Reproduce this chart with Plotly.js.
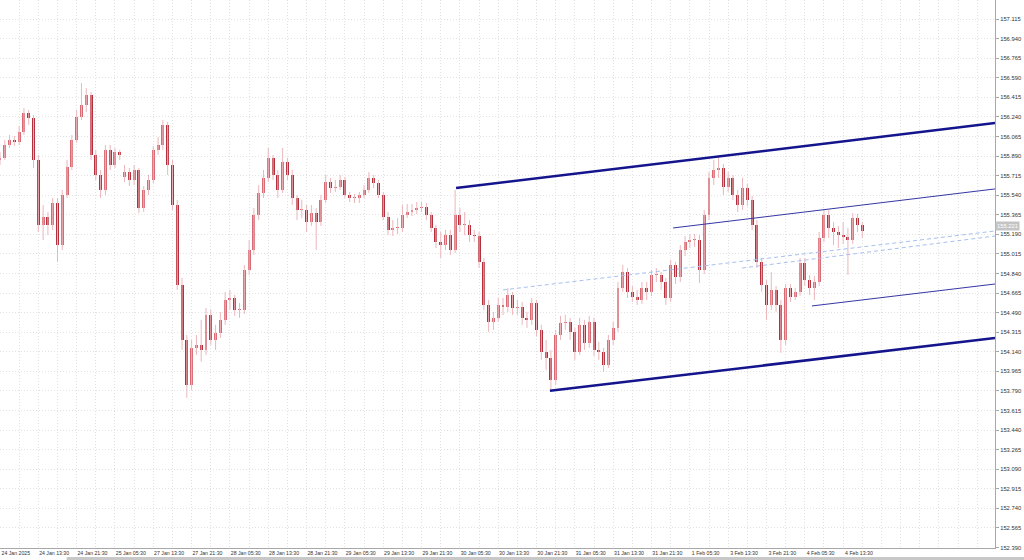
<!DOCTYPE html>
<html>
<head>
<meta charset="utf-8">
<script src="https://cdn.plot.ly/plotly-3.0.1.min.js"></script>
<style>html,body{margin:0;padding:0;background:#fff;}#chart{width:1024px;height:560px;}</style>
</head>
<body>
<div id="chart"></div>
<script>
// ---- Data (hourly candles) ----
const opens = [
155.855,155.873,155.989,156.033,156.016,156.105,156.275,156.230,155.855,155.274,
155.345,155.274,155.470,155.095,155.542,155.792,156.033,156.239,156.346,156.436,
155.899,155.721,155.587,155.944,155.810,155.926,155.703,155.747,155.676,155.765,
155.425,155.587,155.676,155.944,155.989,156.168,155.810,155.452,154.737,154.246,
153.844,154.175,154.202,154.157,154.470,154.246,154.309,154.425,154.604,154.621,
154.515,154.515,154.871,155.050,155.363,155.560,155.694,155.873,155.721,155.587,
155.837,155.721,155.515,155.408,155.408,155.300,155.381,155.300,155.497,155.658,
155.604,155.613,155.676,155.542,155.515,155.515,155.542,155.587,155.694,155.649,
155.542,155.345,155.229,155.247,155.247,155.363,155.390,155.408,155.425,155.434,
155.363,155.247,155.122,155.095,155.184,155.050,155.363,155.274,155.274,155.184,
155.175,154.943,154.559,154.407,154.443,154.559,154.541,154.648,154.532,154.541,
154.443,154.425,154.577,154.336,154.139,154.086,153.889,154.291,154.398,154.407,
154.318,154.139,154.381,154.220,154.407,154.157,154.139,154.023,154.246,154.354,
154.710,154.853,154.675,154.630,154.604,154.710,154.675,154.827,154.827,154.764,
154.621,154.916,154.809,155.050,155.122,155.139,155.139,154.871,155.363,155.694,
155.765,155.783,155.613,155.694,155.542,155.452,155.604,155.497,155.274,154.943,
154.737,154.559,154.693,154.559,154.246,154.710,154.630,154.675,154.934,154.782,
154.710,154.764,155.157,155.363,155.247,155.211,155.184,155.166,155.139,155.336,
155.274];
const highs = [
155.926,156.033,156.078,156.069,156.159,156.319,156.302,156.257,155.899,155.452,
155.390,155.515,155.515,155.587,155.855,156.078,156.302,156.543,156.498,156.463,
155.944,155.765,155.989,155.989,155.962,155.944,155.810,155.783,155.810,155.783,
155.622,155.721,155.980,156.060,156.212,156.194,155.855,155.497,154.800,154.291,
154.246,154.291,154.425,154.532,154.515,154.381,154.497,154.675,154.693,154.648,
154.577,154.916,155.139,155.425,155.631,155.765,155.962,155.899,155.765,155.962,
155.873,155.765,155.542,155.497,155.452,155.452,155.425,155.542,155.721,155.694,
155.676,155.721,155.703,155.569,155.551,155.569,155.631,155.747,155.721,155.676,
155.569,155.390,155.318,155.336,155.452,155.461,155.461,155.479,155.479,155.470,
155.390,155.274,155.211,155.229,155.229,155.587,155.425,155.390,155.318,155.229,
155.211,154.979,154.604,154.497,154.621,154.621,154.710,154.675,154.604,154.586,
154.497,154.621,154.604,154.381,154.246,154.157,154.336,154.461,154.470,154.443,
154.354,154.443,154.425,154.461,154.443,154.229,154.175,154.291,154.407,154.764,
154.916,154.889,154.728,154.693,154.764,154.764,154.871,154.889,154.853,154.800,
154.961,154.943,155.095,155.175,155.193,155.193,155.184,155.408,155.747,155.855,
155.882,155.819,155.747,155.721,155.587,155.694,155.640,155.533,155.318,154.979,
154.782,154.853,154.728,154.604,154.746,154.746,154.710,154.979,154.979,154.827,
154.818,155.211,155.408,155.408,155.300,155.265,155.300,155.247,155.381,155.372,
155.300];
const lows = [
155.810,155.855,155.962,155.980,155.989,156.078,156.168,155.783,155.211,155.139,
155.184,155.229,154.943,155.050,155.515,155.765,156.007,156.212,156.284,155.855,
155.676,155.515,155.542,155.765,155.783,155.855,155.658,155.622,155.631,155.381,
155.390,155.542,155.649,155.899,155.944,155.721,155.408,154.693,154.157,153.728,
153.800,154.112,154.050,154.112,154.202,154.157,154.264,154.381,154.515,154.461,
154.443,154.479,154.827,155.005,155.318,155.515,155.658,155.676,155.515,155.560,
155.676,155.452,155.318,155.336,155.211,155.265,155.050,155.265,155.470,155.560,
155.569,155.587,155.515,155.479,155.470,155.470,155.515,155.560,155.604,155.515,
155.318,155.184,155.175,155.193,155.211,155.336,155.354,155.372,155.390,155.318,
155.211,155.068,154.979,155.050,155.005,155.023,155.211,155.184,155.122,155.122,
154.889,154.515,154.318,154.336,154.407,154.470,154.497,154.470,154.470,154.381,
154.354,154.381,154.282,154.068,153.978,153.800,153.844,154.246,154.336,154.246,
154.068,154.112,154.157,154.175,154.103,154.068,153.960,153.996,154.202,154.318,
154.675,154.621,154.586,154.559,154.568,154.604,154.639,154.764,154.693,154.559,
154.586,154.746,154.764,154.996,155.068,155.077,154.755,154.836,155.318,155.631,
155.694,155.542,155.569,155.497,155.390,155.408,155.443,155.229,154.889,154.675,
154.425,154.515,154.497,154.130,154.202,154.586,154.604,154.639,154.728,154.648,
154.604,154.728,155.122,155.157,155.095,155.068,155.104,154.827,155.104,155.211,
155.157];
const closes = [
155.873,155.989,156.033,156.016,156.105,156.275,156.230,155.855,155.274,155.345,
155.274,155.470,155.095,155.542,155.792,156.033,156.239,156.346,156.436,155.899,
155.721,155.587,155.944,155.810,155.926,155.899,155.747,155.676,155.765,155.425,
155.587,155.676,155.944,155.989,156.168,155.810,155.452,154.737,154.246,153.844,
154.175,154.202,154.157,154.470,154.246,154.309,154.425,154.604,154.621,154.515,
154.515,154.871,155.050,155.363,155.560,155.694,155.873,155.721,155.587,155.837,
155.721,155.515,155.408,155.408,155.300,155.381,155.300,155.497,155.658,155.604,
155.613,155.676,155.542,155.515,155.515,155.542,155.587,155.694,155.649,155.542,
155.345,155.229,155.247,155.247,155.363,155.390,155.408,155.425,155.434,155.363,
155.247,155.122,155.095,155.184,155.050,155.363,155.274,155.274,155.184,155.175,
154.943,154.559,154.407,154.443,154.559,154.541,154.648,154.532,154.541,154.443,
154.425,154.577,154.336,154.139,154.086,153.889,154.291,154.398,154.407,154.318,
154.139,154.381,154.220,154.407,154.157,154.139,154.023,154.246,154.354,154.710,
154.853,154.675,154.630,154.604,154.710,154.675,154.827,154.827,154.764,154.621,
154.916,154.809,155.050,155.122,155.139,155.139,154.871,155.363,155.694,155.765,
155.783,155.613,155.694,155.542,155.452,155.604,155.497,155.274,154.943,154.737,
154.559,154.693,154.559,154.246,154.710,154.630,154.675,154.934,154.782,154.710,
154.764,155.157,155.363,155.247,155.211,155.184,155.166,155.139,155.336,155.274,
155.221];

// x-axis tick labels (one every 8 bars)
const tickLabels = ["24 Jan 2025","24 Jan 13:30","24 Jan 21:30","25 Jan 05:30","27 Jan 13:30",
"27 Jan 21:30","28 Jan 05:30","28 Jan 13:30","28 Jan 21:30","29 Jan 05:30","29 Jan 13:30",
"29 Jan 21:30","30 Jan 05:30","30 Jan 13:30","30 Jan 21:30","31 Jan 05:30","31 Jan 13:30",
"31 Jan 21:30","1 Feb 05:30","3 Feb 13:30","3 Feb 21:30","4 Feb 05:30","4 Feb 13:30"];

// Trend lines: start/end bar index and price
const thickStartBar = [95.2, 114.8];
const thickStartPrice = [155.604, 153.791];
const thickEndBar = [207.7, 207.7];
const thickEndPrice = [156.185, 154.264];

const thinStartBar = [140.5, 169.5];
const thinStartPrice = [155.247, 154.550];
const thinEndBar = [207.7, 207.7];
const thinEndPrice = [155.596, 154.746];

const dashStartBar = [105.0, 154.9];
const dashStartPrice = [154.693, 154.889];
const dashEndBar = [207.7, 207.7];
const dashEndPrice = [155.220, 155.175];

// ---- Build traces ----
const UP = '#d86a74', DOWN = '#b3303c', WICK = '#ebb6bb';
const idx = closes.map((_, i) => i);
const wx = [], wy = [];
idx.forEach(i => { wx.push(i, i, null); wy.push(lows[i], highs[i], null); });
const bodyBase = idx.map(i => Math.min(opens[i], closes[i]));
const bodyH = idx.map(i => Math.max(Math.abs(closes[i] - opens[i]), 0.006));
const bodyCol = idx.map(i => closes[i] >= opens[i] ? UP : DOWN);

const traces = [
  {type:'scatter', mode:'lines', x:wx, y:wy, line:{color:WICK, width:1}, hoverinfo:'skip', connectgaps:false},
  {type:'bar', x:idx, y:bodyH, base:bodyBase, width:0.62, marker:{color:bodyCol, line:{width:0}}, hoverinfo:'skip'}
];
function addLines(sx, sp, ex, ep, style) {
  sx.forEach((_, k) => traces.push({type:'scatter', mode:'lines', x:[sx[k], ex[k]], y:[sp[k], ep[k]],
    line:style, hoverinfo:'skip'}));
}
addLines(dashStartBar, dashStartPrice, dashEndBar, dashEndPrice, {color:'#a9bff0', width:1, dash:'4px,3px'});
addLines(thinStartBar, thinStartPrice, thinEndBar, thinEndPrice, {color:'#3636a6', width:1});
addLines(thickStartBar, thickStartPrice, thickEndBar, thickEndPrice, {color:'#14148c', width:2.5});

const tickPos = tickLabels.map((_, k) => k * 8 + 3.3);
const lastClose = closes[closes.length - 1];
const tf = {family:'Liberation Sans, Arial, sans-serif', size:5.2, color:'#333'};

const layout = {
  width:1024, height:560,
  margin:{l:0, r:29, t:0, b:12, pad:0},
  paper_bgcolor:'#ffffff', plot_bgcolor:'#ffffff',
  showlegend:false, bargap:0, hovermode:false,
  xaxis:{range:[0, 207.7], tickmode:'array', tickvals:tickPos, ticktext:tickLabels,
    showgrid:false, zeroline:false, showline:true, mirror:true, linecolor:'#a8a8a8', linewidth:1,
    ticks:'', tickfont:tf, fixedrange:true,
    minor:{tick0:0, dtick:4, showgrid:true, gridcolor:'#e2e2e2', griddash:'1px,2px', gridwidth:1}},
  yaxis:{side:'right', range:[152.386, 157.285], tickmode:'linear', tick0:152.565, dtick:0.175,
    tickformat:'.3f', showgrid:true, gridcolor:'#e2e2e2', griddash:'1px,2px', gridwidth:1,
    zeroline:false, showline:true, mirror:true, linecolor:'#a8a8a8', linewidth:1,
    ticks:'outside', ticklen:3, tickcolor:'#a8a8a8', tickfont:{family:'Liberation Sans, Arial, sans-serif', size:5.8, color:'#333'},
    fixedrange:true},
  annotations:[{xref:'paper', yref:'y', x:1, y:lastClose, xanchor:'left', yanchor:'bottom',
    text:lastClose.toFixed(3), showarrow:false, bgcolor:'#c4c4c4', borderpad:1,
    font:{family:'Liberation Sans, Arial, sans-serif', size:5.8, color:'#ffffff'}}],
  shapes:[{type:'rect', xref:'paper', yref:'paper', x0:0.067, x1:1.03, y0:-0.0165, y1:-0.023,
    fillcolor:'#c8c8c8', line:{width:0}, layer:'above'}]
};

Plotly.newPlot('chart', traces, layout, {displayModeBar:false, staticPlot:true});
</script>
</body>
</html>
